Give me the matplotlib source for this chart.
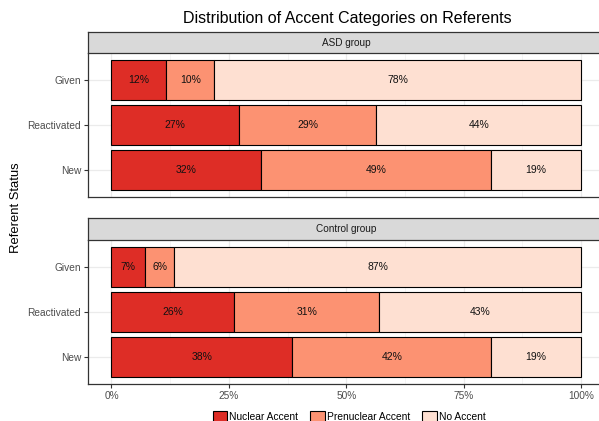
import matplotlib
matplotlib.use("Agg")
import matplotlib.pyplot as plt
from matplotlib.patches import Patch
import numpy as np

plt.rcParams['font.family'] = ['Liberation Sans', 'DejaVu Sans']

statuses = ["New", "Reactivated", "Given"]
categories = ["Nuclear Accent", "Prenuclear Accent", "No Accent"]
colors = ["#DE2D26", "#FC9272", "#FEE0D2"]
groups = ["ASD group", "Control group"]

# percent per status (New, Reactivated, Given) for each category
asd_nuclear = [31.9, 27.2, 11.7]
asd_prenuclear = [49.0, 29.2, 10.2]
asd_none = [19.1, 43.6, 78.1]
ctl_nuclear = [38.5, 26.2, 7.2]
ctl_prenuclear = [42.4, 30.8, 6.2]
ctl_none = [19.1, 43.0, 86.6]

data = {
    "ASD group": [asd_nuclear, asd_prenuclear, asd_none],
    "Control group": [ctl_nuclear, ctl_prenuclear, ctl_none],
}

W, H = 599, 421
fig = plt.figure(figsize=(W / 100, H / 100), dpi=100)

left_px, right_px = 88, 604.5
panels = [(53, 197, 32), (240, 384, 218)]  # panel top, panel bottom, strip top

for gi, grp in enumerate(groups):
    ptop, pbot, stop = panels[gi]
    ax = fig.add_axes([left_px / W, 1 - pbot / H, (right_px - left_px) / W, (pbot - ptop) / H])
    ax.set_xlim(-0.05, 1.05)
    ax.set_ylim(0.4, 3.6)
    ax.set_xticks([0, 0.25, 0.5, 0.75, 1])
    ax.set_xticks([0.125, 0.375, 0.625, 0.875], minor=True)
    ax.set_yticks([1, 2, 3])
    ax.set_yticklabels(statuses)
    ax.grid(True, which='major', color='#EBEBEB', lw=0.9)
    ax.grid(True, which='minor', axis='x', color='#F2F2F2', lw=0.5)
    ax.set_axisbelow(True)
    for s in ['top', 'right']:
        ax.spines[s].set_visible(False)
    for s in ['left', 'bottom']:
        ax.spines[s].set_color('#333333')
        ax.spines[s].set_linewidth(0.9)
    ax.tick_params(axis='both', which='major', length=3, color='#333333',
                   labelsize=7.3, labelcolor='#4D4D4D', pad=2)
    ax.tick_params(axis='x', which='minor', length=0)
    if gi == 0:
        ax.tick_params(axis='x', which='major', length=0, labelbottom=False)
    else:
        ax.set_xticklabels(["0%", "25%", "50%", "75%", "100%"])

    ypos = np.arange(1, 4)
    cum = np.zeros(3)
    for ci, vals in enumerate(data[grp]):
        v = np.array(vals) / 100
        ax.barh(ypos, v, left=cum, height=0.9, color=colors[ci],
                edgecolor='black', lw=0.8, zorder=2)
        for yi in range(3):
            ax.text(cum[yi] + v[yi] / 2, ypos[yi], f"{round(vals[yi])}%",
                    ha='center', va='center', fontsize=7.5, color='#111111', zorder=3)
        cum += v

    # facet strip
    sax = fig.add_axes([left_px / W, 1 - ptop / H, (right_px - left_px) / W, (ptop - stop) / H])
    sax.set_facecolor('#D9D9D9')
    sax.set_xticks([])
    sax.set_yticks([])
    for s in sax.spines.values():
        s.set_color('#333333')
        s.set_linewidth(0.9)
    sax.text(0.5, 0.5, grp, transform=sax.transAxes, ha='center', va='center',
             fontsize=7.2, color='#1A1A1A')

fig.text(347 / W, 1 - 18 / H, "Distribution of Accent Categories on Referents",
         ha='center', va='center', fontsize=11.5)
fig.text(16 / W, 1 - 208 / H, "Referent Status", rotation=90,
         ha='center', va='center', fontsize=9.4)

handles = [Patch(facecolor=c, edgecolor='black', lw=0.8) for c in colors]
fig.legend(handles, categories, loc='center', bbox_to_anchor=(349 / W, 1 - 417 / H),
           ncol=3, frameon=False, fontsize=7.4, handlelength=1.4, handleheight=1.4,
           handletextpad=0.2, columnspacing=1.2, borderpad=0)

fig.savefig("out.png", dpi=100)
